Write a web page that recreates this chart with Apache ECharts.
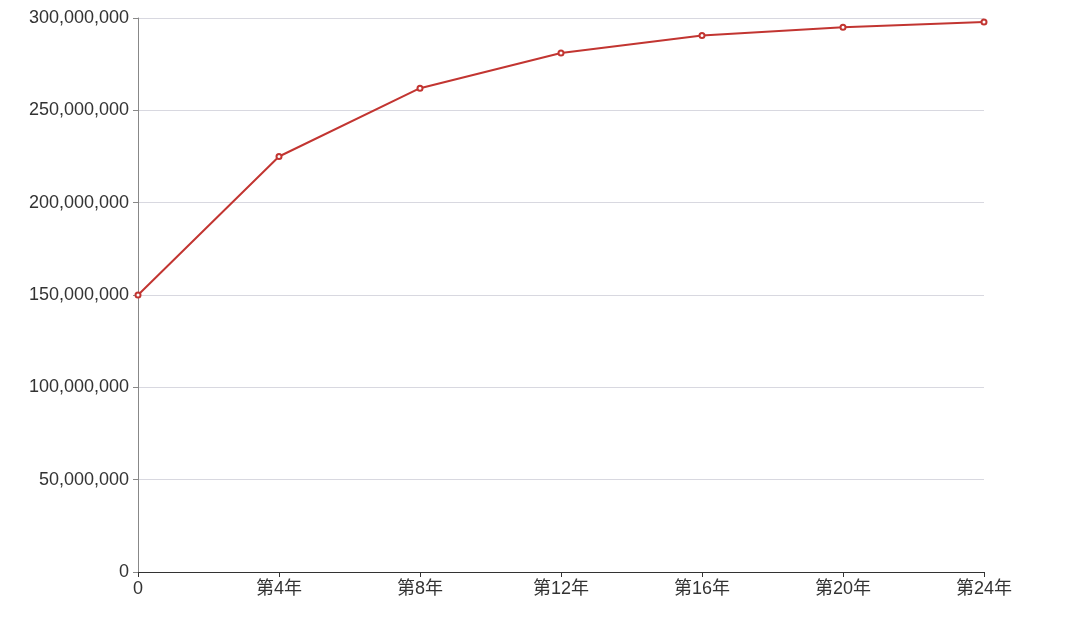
<!DOCTYPE html>
<html><head><meta charset="utf-8">
<script src="https://cdn.jsdelivr.net/npm/echarts@6/dist/echarts.min.js"></script>
<style>html,body{margin:0;padding:0;background:#fff}#c{width:1080px;height:627px}</style>
</head><body><div id="c"></div>
<script>
const categories = ['0','第4年','第8年','第12年','第16年','第20年','第24年'];
const values = [150000000, 225000000, 262000000, 281000000, 290500000, 295000000, 297800000];
const yTicks = [0, 50000000, 100000000, 150000000, 200000000, 250000000, 300000000];

const chart = echarts.init(document.getElementById('c'));
const font = '"Liberation Sans", "Noto Sans CJK SC", sans-serif';
chart.setOption({
  animation: false,
  grid: {left: 138, right: 96, top: 18, bottom: 55},
  xAxis: {
    type: 'category', data: categories, boundaryGap: false,
    axisLine: {lineStyle: {color: '#333'}},
    axisTick: {alignWithLabel: true, length: 5, lineStyle: {color: '#333'}},
    axisLabel: {color: '#333', fontSize: 18, fontFamily: font, margin: 8}
  },
  yAxis: {
    type: 'value', min: yTicks[0], max: yTicks[yTicks.length-1], interval: 50000000,
    axisLine: {show: true, lineStyle: {color: '#888'}},
    axisTick: {show: true, length: 5, lineStyle: {color: '#888'}},
    splitLine: {lineStyle: {color: '#d8d8e0'}},
    axisLabel: {color: '#333', fontSize: 18, fontFamily: font, margin: 9,
      formatter: v => v.toLocaleString('en-US')}
  },
  series: [{
    type: 'line', data: values,
    symbol: 'emptyCircle', symbolSize: 5,
    lineStyle: {color: '#c23531', width: 2},
    itemStyle: {color: '#c23531'}
  }]
});
</script></body></html>
